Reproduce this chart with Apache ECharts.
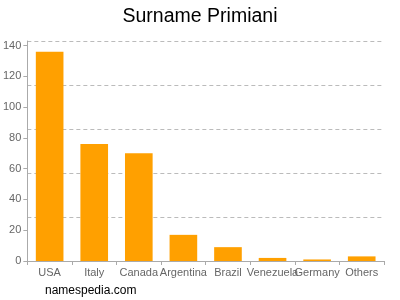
<!DOCTYPE html>
<html><head><meta charset="utf-8">
<script src="https://cdn.jsdelivr.net/npm/echarts@6/dist/echarts.min.js"></script>
<style>html,body{margin:0;padding:0;background:#fff}#c{width:400px;height:300px}</style>
</head><body><div id="c"></div>
<script>
var categories = ["USA","Italy","Canada","Argentina","Brazil","Venezuela","Germany","Others"];
var counts = [136, 76, 70, 17, 9, 2, 1, 3];
var yTickInterval = 20;
var yMax = 143;

var chart = echarts.init(document.getElementById('c'), null, {renderer:'canvas'});
chart.setOption({
  animation: false,
  backgroundColor: '#fff',
  title: {
    text: 'Surname Primiani', left: 'center', top: 2,
    textStyle: {fontFamily: 'Liberation Sans, Arial, sans-serif', fontSize: 19.5, fontWeight: 'normal', color: '#000'}
  },
  graphic: [{
    type: 'text', left: 45, top: 285,
    style: {text: 'namespedia.com', fontFamily: 'Liberation Sans, Arial, sans-serif', fontSize: 12, fill: '#000'}
  }],
  grid: {left: 25, right: 16, top: 41, bottom: 39, containLabel: false},
  xAxis: {
    type: 'category', data: categories,
    axisLine: {lineStyle: {color: '#aaa'}},
    axisTick: {show: true, alignWithLabel: false, length: 4, lineStyle: {color: '#aaa'}},
    axisLabel: {color: '#666', fontSize: 11, fontFamily: 'Liberation Sans, Arial, sans-serif', interval: 0, margin: 6},
    splitLine: {show: false}
  },
  yAxis: [{
    type: 'value', min: 0, max: yMax, interval: yTickInterval,
    axisLine: {show: true, lineStyle: {color: '#aaa'}},
    axisTick: {show: true, length: 4, lineStyle: {color: '#aaa'}},
    axisLabel: {color: '#666', fontSize: 11, fontFamily: 'Liberation Sans, Arial, sans-serif', margin: 6,
      showMaxLabel: false},
    splitLine: {show: false}
  }, {
    type: 'value', min: 0, max: yMax, interval: yMax / 5, position: 'left',
    axisLine: {show: false}, axisTick: {show: false}, axisLabel: {show: false},
    splitLine: {show: true, lineStyle: {color: '#bbb', type: [4, 3], width: 1}}
  }],
  series: [{
    type: 'bar', data: counts, yAxisIndex: 0, barWidth: '62%',
    itemStyle: {color: '#ffa000'}
  }]
});
</script></body></html>
